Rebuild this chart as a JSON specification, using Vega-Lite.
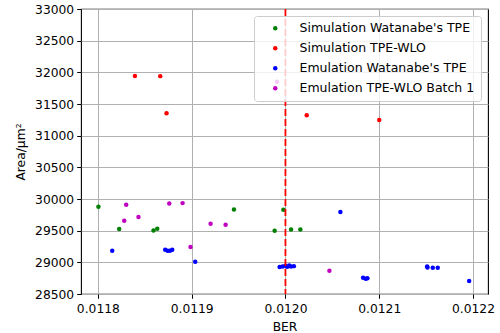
{
  "$schema": "https://vega.github.io/schema/vega-lite/v6.json",
  "width": 407,
  "height": 285,
  "autosize": "none",
  "padding": {"left": 81, "top": 9, "right": 12, "bottom": 39},
  "config": {
    "font": "DejaVu Sans",
    "view": {"stroke": "black", "strokeWidth": 1.1},
    "axis": {
      "domain": false,
      "grid": true,
      "gridColor": "#b0b0b0",
      "gridWidth": 1,
      "tickColor": "black",
      "tickSize": 4.3,
      "tickWidth": 1,
      "labelFont": "DejaVu Sans",
      "labelFontSize": 12.3,
      "labelColor": "black",
      "titleFont": "DejaVu Sans",
      "titleFontSize": 12.3,
      "titleFontWeight": "normal",
      "titleColor": "black"
    }
  },
  "data": {
    "values": [
      {"BER": 0.0118006, "Area": 29877, "series": "Simulation Watanabe's TPE"},
      {"BER": 0.0118227, "Area": 29525, "series": "Simulation Watanabe's TPE"},
      {"BER": 0.0118593, "Area": 29503, "series": "Simulation Watanabe's TPE"},
      {"BER": 0.0118633, "Area": 29530, "series": "Simulation Watanabe's TPE"},
      {"BER": 0.0119451, "Area": 29834, "series": "Simulation Watanabe's TPE"},
      {"BER": 0.0119885, "Area": 29498, "series": "Simulation Watanabe's TPE"},
      {"BER": 0.0119978, "Area": 29830, "series": "Simulation Watanabe's TPE"},
      {"BER": 0.0120060, "Area": 29519, "series": "Simulation Watanabe's TPE"},
      {"BER": 0.0120159, "Area": 29519, "series": "Simulation Watanabe's TPE"},
      {"BER": 0.0118395, "Area": 31943, "series": "Simulation TPE-WLO"},
      {"BER": 0.0118665, "Area": 31940, "series": "Simulation TPE-WLO"},
      {"BER": 0.0118732, "Area": 31355, "series": "Simulation TPE-WLO"},
      {"BER": 0.0120227, "Area": 31323, "series": "Simulation TPE-WLO"},
      {"BER": 0.0121000, "Area": 31249, "series": "Simulation TPE-WLO"},
      {"BER": 0.0118153, "Area": 29183, "series": "Emulation Watanabe's TPE"},
      {"BER": 0.0118718, "Area": 29199, "series": "Emulation Watanabe's TPE"},
      {"BER": 0.0118743, "Area": 29183, "series": "Emulation Watanabe's TPE"},
      {"BER": 0.0118768, "Area": 29183, "series": "Emulation Watanabe's TPE"},
      {"BER": 0.0118793, "Area": 29199, "series": "Emulation Watanabe's TPE"},
      {"BER": 0.0119038, "Area": 29009, "series": "Emulation Watanabe's TPE"},
      {"BER": 0.0119938, "Area": 28926, "series": "Emulation Watanabe's TPE"},
      {"BER": 0.0119970, "Area": 28935, "series": "Emulation Watanabe's TPE"},
      {"BER": 0.0120000, "Area": 28945, "series": "Emulation Watanabe's TPE"},
      {"BER": 0.0120020, "Area": 28930, "series": "Emulation Watanabe's TPE"},
      {"BER": 0.0120040, "Area": 28950, "series": "Emulation Watanabe's TPE"},
      {"BER": 0.0120060, "Area": 28935, "series": "Emulation Watanabe's TPE"},
      {"BER": 0.0120090, "Area": 28940, "series": "Emulation Watanabe's TPE"},
      {"BER": 0.0120586, "Area": 29793, "series": "Emulation Watanabe's TPE"},
      {"BER": 0.0120828, "Area": 28757, "series": "Emulation Watanabe's TPE"},
      {"BER": 0.0120856, "Area": 28741, "series": "Emulation Watanabe's TPE"},
      {"BER": 0.0120874, "Area": 28748, "series": "Emulation Watanabe's TPE"},
      {"BER": 0.0121511, "Area": 28935, "series": "Emulation Watanabe's TPE"},
      {"BER": 0.0121515, "Area": 28920, "series": "Emulation Watanabe's TPE"},
      {"BER": 0.0121571, "Area": 28915, "series": "Emulation Watanabe's TPE"},
      {"BER": 0.0121624, "Area": 28915, "series": "Emulation Watanabe's TPE"},
      {"BER": 0.0121959, "Area": 28705, "series": "Emulation Watanabe's TPE"},
      {"BER": 0.0118281, "Area": 29656, "series": "Emulation TPE-WLO Batch 1"},
      {"BER": 0.0118302, "Area": 29909, "series": "Emulation TPE-WLO Batch 1"},
      {"BER": 0.0118433, "Area": 29715, "series": "Emulation TPE-WLO Batch 1"},
      {"BER": 0.0118761, "Area": 29929, "series": "Emulation TPE-WLO Batch 1"},
      {"BER": 0.0118903, "Area": 29935, "series": "Emulation TPE-WLO Batch 1"},
      {"BER": 0.0118988, "Area": 29241, "series": "Emulation TPE-WLO Batch 1"},
      {"BER": 0.0119202, "Area": 29609, "series": "Emulation TPE-WLO Batch 1"},
      {"BER": 0.0119362, "Area": 29593, "series": "Emulation TPE-WLO Batch 1"},
      {"BER": 0.0119910, "Area": 31853, "series": "Emulation TPE-WLO Batch 1"},
      {"BER": 0.0120469, "Area": 28868, "series": "Emulation TPE-WLO Batch 1"}
    ]
  },
  "layer": [
    {
      "mark": {"type": "point", "filled": true, "opacity": 1, "size": 20, "shape": "circle"},
      "encoding": {
        "x": {
          "field": "BER", "type": "quantitative", "title": "BER",
          "scale": {"domain": [0.011782, 0.012216], "nice": false, "zero": false},
          "axis": {"values": [0.0118, 0.0119, 0.012, 0.0121, 0.0122], "format": ".4f", "labelPadding": 4, "titlePadding": 6}
        },
        "y": {
          "field": "Area", "type": "quantitative", "title": "Area/µm²",
          "scale": {"domain": [28500, 33000], "nice": false, "zero": false},
          "axis": {"values": [28500, 29000, 29500, 30000, 30500, 31000, 31500, 32000, 32500, 33000], "format": "d", "labelPadding": 3, "titlePadding": 7}
        },
        "color": {
          "field": "series", "type": "nominal",
          "scale": {
            "domain": ["Simulation Watanabe's TPE", "Simulation TPE-WLO", "Emulation Watanabe's TPE", "Emulation TPE-WLO Batch 1"],
            "range": ["#008000", "#ff0000", "#0000ff", "#bf00bf"]
          },
          "legend": {
            "title": null,
            "orient": "top-right",
            "offset": 7,
            "padding": 6,
            "fillColor": "rgba(255,255,255,0.8)",
            "strokeColor": "#cccccc",
            "cornerRadius": 3,
            "symbolType": "circle",
            "symbolSize": 20,
            "symbolStrokeWidth": 0,
            "symbolOffset": 9,
            "labelOffset": 18,
            "labelFont": "DejaVu Sans",
            "labelFontSize": 12.5,
            "labelColor": "black",
            "labelLimit": 300,
            "rowPadding": 7
          }
        }
      }
    },
    {
      "data": {"values": [{"BER": 0.012}]},
      "mark": {"type": "rule", "color": "#ff0000", "strokeWidth": 1.8, "strokeDash": [7, 3]},
      "encoding": {
        "x": {"field": "BER", "type": "quantitative"}
      }
    }
  ]
}
